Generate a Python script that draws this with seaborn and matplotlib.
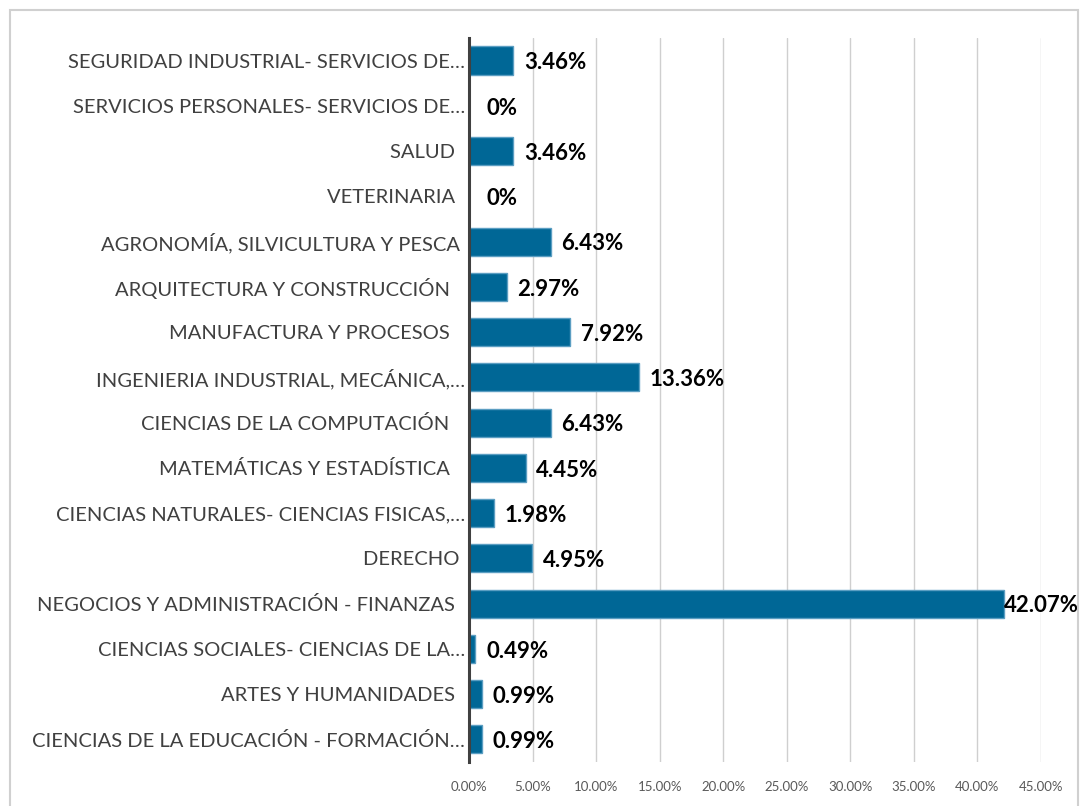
#!/usr/bin/env python3

import pandas as pd
import matplotlib.pyplot as plt
import seaborn as sns
from matplotlib.patches import Rectangle
from matplotlib.ticker import FuncFormatter

# Chart data (top to bottom as shown)
CATEGORIES = [
    'SEGURIDAD INDUSTRIAL- SERVICIOS DE…',
    'SERVICIOS PERSONALES- SERVICIOS DE…',
    'SALUD  ',
    'VETERINARIA  ',
    'AGRONOMÍA, SILVICULTURA Y PESCA ',
    'ARQUITECTURA Y CONSTRUCCIÓN   ',
    'MANUFACTURA Y PROCESOS   ',
    'INGENIERIA INDUSTRIAL, MECÁNICA,…',
    'CIENCIAS DE LA COMPUTACIÓN   ',
    'MATEMÁTICAS Y ESTADÍSTICA   ',
    'CIENCIAS NATURALES- CIENCIAS FISICAS,…',
    'DERECHO ',
    'NEGOCIOS Y ADMINISTRACIÓN - FINANZAS  ',
    'CIENCIAS SOCIALES- CIENCIAS DE LA…',
    'ARTES Y HUMANIDADES  ',
    'CIENCIAS DE LA EDUCACIÓN - FORMACIÓN…',
]
PERCENTS = [3.46, 0, 3.46, 0, 6.43, 2.97, 7.92, 13.36, 6.43, 4.45, 1.98, 4.95, 42.07, 0.49, 0.99, 0.99]
VALUE_LABELS = ['3.46%', '0%', '3.46%', '0%', '6.43%', '2.97%', '7.92%', '13.36%', '6.43%',
                '4.45%', '1.98%', '4.95%', '42.07%', '0.49%', '0.99%', '0.99%']
X_TICKS = [0, 5, 10, 15, 20, 25, 30, 35, 40, 45]

BAR_COLOR = '#006796'
BAR_EDGE = '#5b9ec2'

sns.set_theme(style="white")
plt.rcParams['font.family'] = ['Lato', 'DejaVu Sans']

df = pd.DataFrame({'cat': CATEGORIES, 'pct': PERCENTS})

fig = plt.figure(figsize=(10.84, 8.06), dpi=100)
ax = fig.add_axes([0.4327, 0.0546, 0.5276, 0.8984])

sns.barplot(data=df, x='pct', y='cat', orient='h', color=BAR_COLOR, width=0.62,
            edgecolor=BAR_EDGE, linewidth=1, saturation=1, ax=ax, zorder=3)

ax.set_xlim(0, 45)
ax.set_ylim(len(CATEGORIES) - 0.5, -0.5)
ax.set_xticks(X_TICKS)
ax.xaxis.set_major_formatter(FuncFormatter(lambda v, _: f'{v:.2f}%'))
ax.tick_params(axis='x', labelsize=9.5, colors='#595959', length=0, pad=14)
ax.tick_params(axis='y', labelsize=14.5, colors='#404040', length=0, pad=3)
ax.set_xlabel('')
ax.set_ylabel('')

ax.grid(axis='x', color='#cfcfcf', linewidth=1, zorder=0)
ax.set_axisbelow(True)
for side in ['top', 'right', 'bottom']:
    ax.spines[side].set_visible(False)
ax.spines['left'].set_color('#404040')
ax.spines['left'].set_linewidth(2.2)
ax.spines['left'].set_zorder(4)

for i, (val, lab) in enumerate(zip(PERCENTS, VALUE_LABELS)):
    if val > 40:
        xpos = val
    elif val == 0:
        xpos = 1.4
    else:
        xpos = val + 0.85
    ax.text(xpos, i + 0.05, lab, ha='left', va='center', fontsize=16,
            fontweight='bold', color='black', clip_on=False, zorder=5)

# light border around the chart area
fig.patches.append(Rectangle((10 / 1084, -0.01), 1068 / 1084, 1 - 10 / 806 + 0.01,
                             transform=fig.transFigure, fill=False,
                             edgecolor='#d0d0d0', linewidth=1.5))

fig.savefig('out.png', dpi=100)
